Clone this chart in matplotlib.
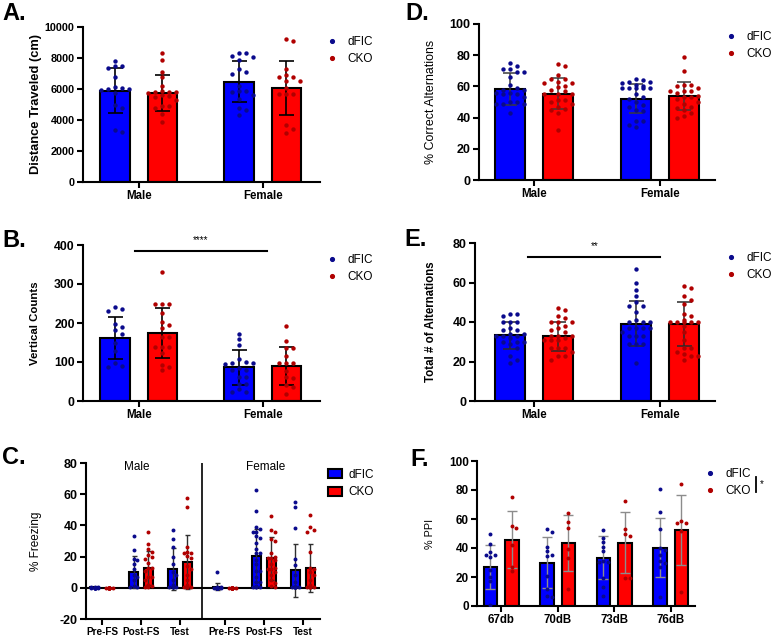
import numpy as np
import matplotlib
matplotlib.use('Agg')
import matplotlib.pyplot as plt
from matplotlib.lines import Line2D
from matplotlib.patches import Patch

plt.rcParams['font.family'] = ['Liberation Sans', 'DejaVu Sans']

BLUE, RED = '#0000ff', '#ff0000'
BLUE_DOT, RED_DOT = '#0a0a8c', '#b00000'

sexes = ['Male', 'Female']

# A. distance traveled (cm)
dist_dfic_mean = [5900, 6480]
dist_dfic_sd = [1450, 1310]
dist_cko_mean = [5730, 6080]
dist_cko_sd = [1150, 1730]
dist_dfic_pts = [[7830, 7500, 7500, 7350, 6750, 6150, 6050, 6000, 6000, 5950, 5750, 4950, 4750, 3350, 3200],
                 [8350, 8350, 8100, 8050, 7850, 7300, 7100, 7000, 6200, 5850, 5850, 5800, 5600, 5350, 4800, 4650, 4300]]
dist_cko_pts = [[8300, 7870, 7120, 6750, 6210, 5870, 5830, 5830, 5780, 5740, 5610, 5570, 5460, 5290, 4900, 4900,
                 4750, 4390, 3850],
                [9200, 9100, 7270, 6900, 6750, 6750, 6500, 6500, 6050, 5700, 5700, 5650, 3700, 3400, 3150]]

# D. % correct alternations
alt_dfic_mean = [58.3, 52.2]
alt_dfic_sd = [10, 9.5]
alt_cko_mean = [55.3, 53.8]
alt_cko_sd = [10, 9.2]
alt_dfic_pts = [[75, 73, 71, 71, 69, 69, 66, 61, 59, 58, 58, 56, 56, 55, 55, 53, 50, 50, 49, 49, 49, 43],
                [65, 64, 63, 63, 62, 61, 59, 59, 59, 59, 60, 59, 55, 53, 52, 50, 48, 47, 45, 44, 38, 38, 35, 34]]
alt_cko_pts = [[74.5, 73, 67, 65, 64.5, 63, 62, 62, 60.5, 59.5, 57.5, 57, 55, 55, 55, 51, 51, 50, 48.5, 46.5, 45.5,
                45, 43, 32],
               [79, 70, 61, 61, 60, 59, 57, 57, 57, 56, 54, 53, 53, 52, 50, 49, 47, 46, 45, 43, 41, 40]]

# B. vertical counts
vert_dfic_mean = [161, 86]
vert_dfic_sd = [54, 45]
vert_cko_mean = [174, 89]
vert_cko_sd = [65, 49]
vert_dfic_pts = [[240, 235, 232, 197, 190, 183, 172, 150, 128, 97, 88, 90],
                 [173, 158, 143, 107, 101, 98, 97, 96, 84, 80, 80, 62, 62, 44, 43, 31, 24, 22]]
vert_cko_pts = [[330, 250, 250, 250, 226, 203, 195, 186, 163, 163, 139, 139, 139, 122, 92, 88, 79],
                [193, 155, 137, 135, 116, 98, 98, 97, 76, 62, 58, 40, 37, 18]]

# E. total # of alternations
tot_dfic_mean = [33.2, 39.2]
tot_dfic_sd = [7, 11.2]
tot_cko_mean = [32.7, 38.9]
tot_cko_sd = [7.5, 11]
tot_dfic_pts = [[44, 44, 43, 40, 40, 40, 37, 36, 36, 34, 34, 33, 33, 33, 32, 30, 30, 30, 29, 27, 23, 21, 19],
                [67, 60, 56, 53, 50, 48, 48, 45, 41, 40, 40, 40, 37, 37, 37, 37, 35, 33, 33, 33, 29, 29, 29, 19]]
tot_cko_pts = [[47, 46, 43, 42, 40, 40, 40, 38, 37, 36, 35, 33, 33, 33, 32, 31, 31, 31, 27, 27, 27, 25, 23, 23, 21],
               [58, 57, 53, 51, 49, 44, 43, 41, 40, 40, 40, 40, 40, 38, 35, 31, 27, 27, 25, 24, 23, 23, 21]]

# C. % freezing (Male Pre/Post/Test, Female Pre/Post/Test)
phases = ['Pre-FS', 'Post-FS', 'Test', 'Pre-FS', 'Post-FS', 'Test']
frz_dfic_mean = [0.2, 10.4, 12.2, 0.8, 20.4, 11.1]
frz_dfic_sd = [0.3, 10.3, 13.4, 2.3, 17, 17]
frz_cko_mean = [0, 12.6, 16.4, 0, 19, 12.6]
frz_cko_sd = [0, 11.1, 17.3, 0, 13.8, 15.4]
frz_dfic_pts = [[0.8, 0.5, 0.3, 0, 0, 0, 0, 0, 0, 0, 0, 0],
                [33, 24, 18.5, 18, 15, 12, 8, 7, 5, 1, 0.5, 0.5],
                [37, 31, 26, 20, 15, 10, 8, 5, 2, 0.5, 0.5, 0.5, 0.5, 0.5],
                [10.2, 0.5, 0.3, 0, 0, 0, 0, 0, 0, 0, 0, 0, 0, 0, 0, 0],
                [63, 49, 39, 38, 36, 36, 33, 32, 29, 25, 22, 22, 18, 15, 10.5, 10.5, 7, 4, 4, 1, 0.5, 0.5, 0.5, 0.5],
                [55, 51.5, 38.5, 18.5, 14.5, 8, 4, 0.5, 0.5, 0.5, 0.5, 0.5, 0.5, 0.5, 0.5]]
frz_cko_pts = [[0, 0, 0, 0, 0, 0, 0, 0, 0, 0, 0, 0],
               [36, 28, 25, 23, 21, 20, 18.5, 16, 13, 13, 10.5, 7, 7, 5, 2, 1, 0.5, 0.5],
               [57.5, 52, 26, 23, 22.5, 22, 20.5, 19, 14, 12, 8, 5, 2, 0.5, 0.5, 0.5, 0.5, 0.5],
               [0, 0, 0, 0, 0, 0, 0, 0, 0, 0, 0, 0, 0, 0, 0, 0],
               [46, 37, 36, 31, 30, 22, 20, 19, 19, 18, 15, 13, 12, 12, 10, 8, 5, 3, 1, 0.5],
               [46.5, 39, 37, 36, 23, 13, 12, 10, 8, 5, 2, 0.5, 0.5, 0.5, 0.5, 0.5, 0.5]]

# F. % PPI
levels = ['67db', '70dB', '73dB', '76dB']
ppi_dfic_mean = [27, 30, 33.2, 40.3]
ppi_dfic_sd = [15.2, 17.3, 14.8, 20.6]
ppi_cko_mean = [45.7, 43.2, 43.5, 52.6]
ppi_cko_sd = [19.5, 19.4, 21, 24.2]
ppi_dfic_pts = [[50, 43, 37, 35, 35, 34, 25, 20, 17, 0.5],
                [53, 51, 41, 38, 35.5, 34.5, 21, 12, 7, 6],
                [52.5, 47, 44, 41, 38, 31, 30.5, 30.5, 19, 13, 7],
                [80.5, 64.5, 53, 40, 38.5, 35, 31, 30, 27, 6]]
ppi_cko_pts = [[75, 55, 53.5, 42, 27, 24],
               [64, 58, 54, 39, 33, 12],
               [72.5, 53, 50, 48, 19.5, 19.5],
               [84, 58.5, 57.5, 57, 52, 10]]

W, H = 772, 637
fig = plt.figure(figsize=(W / 100, H / 100), dpi=100)

BW, OFF = 0.24, 0.19


def add_axes_px(left, top, right, bottom):
    return fig.add_axes([left / W, 1 - bottom / H, (right - left) / W, (bottom - top) / H])


def swarm(ax, xc, vals, spacing, kmax, diam):
    # spread dots sideways so they don't sit on top of each other
    tr = ax.transData
    inv = tr.inverted()
    cx = tr.transform((xc, 0))[0]
    placed, xs = [], []
    ks = [0]
    for k in range(1, kmax + 1):
        ks += [k, -k]
    for v in sorted(vals, reverse=True):
        py = tr.transform((xc, v))[1]
        best, best_d = None, -1
        for k in ks:
            px = cx + k * spacing
            d = min([np.hypot(px - qx, py - qy) for qx, qy in placed] + [1e9])
            if d >= diam:
                best = px
                break
            if d > best_d:
                best, best_d = px, d
        placed.append((best, py))
        xs.append(inv.transform((best, py))[0])
    return xs, sorted(vals, reverse=True)


def draw_bars(ax, centers, d_mean, d_sd, c_mean, c_sd, d_pts, c_pts, ecol, cap, elw,
              spacing, kmax, diam, s):
    centers = np.asarray(centers, dtype=float)
    for xs, m, sd, pts, fc, dc in [(centers - OFF, d_mean, d_sd, d_pts, BLUE, BLUE_DOT),
                                   (centers + OFF, c_mean, c_sd, c_pts, RED, RED_DOT)]:
        ax.bar(xs, m, width=BW, color=fc, edgecolor='black', linewidth=1.5, zorder=1)
        ax.errorbar(xs, m, yerr=sd, fmt='none', ecolor=ecol, elinewidth=elw, capsize=cap,
                    capthick=elw, zorder=2)
        for x0, p in zip(xs, pts):
            jx, jy = swarm(ax, x0, p, spacing, kmax, diam)
            ax.scatter(jx, jy, s=s, color=dc, linewidths=0, zorder=3)


def style(ax, xticks, xlabels, yticks, fs_tick, fs_x):
    for sp in ['top', 'right']:
        ax.spines[sp].set_visible(False)
    for sp in ['left', 'bottom']:
        ax.spines[sp].set_linewidth(1.5)
    ax.tick_params(direction='out', length=4, width=1.5, pad=2)
    ax.set_xticks(xticks, labels=xlabels, fontweight='bold', fontsize=fs_x)
    ax.set_yticks(yticks, labels=[str(t) for t in yticks], fontweight='bold', fontsize=fs_tick)


def dot_legend(ax, x, y, fs=8.5):
    h = [Line2D([], [], marker='o', ls='', color=BLUE_DOT, markersize=2.7),
         Line2D([], [], marker='o', ls='', color=RED_DOT, markersize=2.7)]
    ax.legend(h, ['dFIC', 'CKO'], loc='upper left', bbox_to_anchor=(x / W, 1 - y / H),
              bbox_transform=fig.transFigure, frameon=False, fontsize=fs, handlelength=0.8,
              handletextpad=0.9, labelspacing=0.45, borderpad=0, borderaxespad=0)


def panel_letter(x, y, s):
    fig.text(x / W, 1 - y / H, s, fontsize=17, fontweight='bold', va='top', ha='left')


groups = np.arange(len(sexes))

# ---- A
ax = add_axes_px(83, 27, 320, 182)
ax.set_xlim(-0.45, 1.46)
ax.set_ylim(0, 10000)
draw_bars(ax, groups, dist_dfic_mean, dist_dfic_sd, dist_cko_mean, dist_cko_sd,
          dist_dfic_pts, dist_cko_pts, 'black', 5.4, 1.2, 7, 2, 5, 10)
style(ax, groups, sexes, [0, 2000, 4000, 6000, 8000, 10000], 7.8, 8.3)
ax.set_ylabel('Distance Traveled (cm)', fontsize=9.3, fontweight='bold')
ax.yaxis.set_label_coords(-0.175, 0.5)
dot_legend(ax, 327, 36)
panel_letter(2, 2, 'A.')

# ---- D
ax = add_axes_px(479, 24, 715, 180)
ax.set_xlim(-0.44, 1.44)
ax.set_ylim(0, 100)
draw_bars(ax, groups, alt_dfic_mean, alt_dfic_sd, alt_cko_mean, alt_cko_sd,
          alt_dfic_pts, alt_cko_pts, '#3a3a3a', 5, 1.1, 7, 2, 5, 10)
style(ax, groups, sexes, [0, 20, 40, 60, 80, 100], 9, 8.3)
ax.set_ylabel('% Correct Alternations', fontsize=8.9)
ax.yaxis.set_label_coords(-0.178, 0.5)
dot_legend(ax, 726, 31)
panel_letter(405, 2, 'D.')

# ---- B
ax = add_axes_px(83, 245, 320, 401)
ax.set_xlim(-0.45, 1.46)
ax.set_ylim(0, 400)
draw_bars(ax, groups, vert_dfic_mean, vert_dfic_sd, vert_cko_mean, vert_cko_sd,
          vert_dfic_pts, vert_cko_pts, 'black', 5.4, 1.2, 7, 2, 5, 10)
style(ax, groups, sexes, [0, 100, 200, 300, 400], 8.8, 8.3)
ax.set_ylabel('Vertical Counts', fontsize=8.2, fontweight='bold')
ax.yaxis.set_label_coords(-0.18, 0.5)
ax.plot([-0.03, 1.03], [385, 385], color='black', lw=1.5, clip_on=False)
ax.text(0.5, 405, '****', ha='center', va='baseline', fontsize=7)
dot_legend(ax, 327, 254)
panel_letter(2, 229, 'B.')

# ---- E
ax = add_axes_px(475, 243, 715, 401)
ax.set_xlim(-0.47, 1.44)
ax.set_ylim(0, 80)
draw_bars(ax, groups, tot_dfic_mean, tot_dfic_sd, tot_cko_mean, tot_cko_sd,
          tot_dfic_pts, tot_cko_pts, '#2a2a2a', 5.4, 1.1, 7, 2, 5, 10)
style(ax, groups, sexes, [0, 20, 40, 60, 80], 9, 8.3)
ax.set_ylabel('Total # of Alternations', fontsize=8.3, fontweight='bold')
ax.yaxis.set_label_coords(-0.158, 0.5)
ax.plot([-0.05, 1.0], [72.8, 72.8], color='black', lw=1.5, clip_on=False)
ax.text(0.48, 77, '**', ha='center', va='baseline', fontsize=7)
dot_legend(ax, 726, 252)
panel_letter(404, 228, 'E.')

# ---- C
cpos = np.array([0, 1, 2, 3.15, 4.15, 5.15])
ax = add_axes_px(86, 463, 320, 619)
ax.set_xlim(-0.41, 5.59)
ax.set_ylim(-20, 80)
ax.axhline(0, color='black', lw=1.5, zorder=0.5)
ax.axvline(2.57, color='black', lw=1.2, zorder=0.5)
draw_bars(ax, cpos, frz_dfic_mean, frz_dfic_sd, frz_cko_mean, frz_cko_sd,
          frz_dfic_pts, frz_cko_pts, '#303030', 1.8, 1.0, 3.5, 1, 4, 8)
style(ax, cpos, phases, [-20, 0, 20, 40, 60, 80], 9, 7.2)
ax.set_ylabel('% Freezing', fontsize=8.5)
ax.yaxis.set_label_coords(-0.188, 0.5)
ax.text(0.88, 77.4, 'Male', ha='center', va='center', fontsize=8.5)
ax.text(4.2, 77.4, 'Female', ha='center', va='center', fontsize=8.5)
h = [Patch(facecolor=BLUE, edgecolor='black', linewidth=1.5),
     Patch(facecolor=RED, edgecolor='black', linewidth=1.5)]
ax.legend(h, ['dFIC', 'CKO'], loc='upper left', bbox_to_anchor=(328 / W, 1 - 469 / H),
          bbox_transform=fig.transFigure, frameon=False, fontsize=8.5, handlelength=1.2,
          handleheight=0.8, handletextpad=0.5, labelspacing=0.45, borderpad=0, borderaxespad=0)
panel_letter(2, 446, 'C.')

# ---- F
fpos = np.arange(len(levels))
ax = add_axes_px(477, 461, 695, 606)
ax.set_xlim(-0.425, 3.43)
ax.set_ylim(0, 100)
draw_bars(ax, fpos, ppi_dfic_mean, ppi_dfic_sd, ppi_cko_mean, ppi_cko_sd,
          ppi_dfic_pts, ppi_cko_pts, '#8c8c8c', 3.3, 1.0, 4.7, 1, 4, 8)
style(ax, fpos, levels, [0, 20, 40, 60, 80, 100], 8.5, 8.3)
ax.set_ylabel('% PPI', fontsize=7.8)
ax.yaxis.set_label_coords(-0.193, 0.5)
dot_legend(ax, 705, 468)
fig.add_artist(Line2D([756 / W, 756 / W], [1 - 477 / H, 1 - 492 / H], color='black', lw=1.3))
fig.text(760 / W, 1 - 484 / H, '*', fontsize=7, va='center', ha='left')
panel_letter(410, 448, 'F.')

fig.savefig('out.png', dpi=100)
